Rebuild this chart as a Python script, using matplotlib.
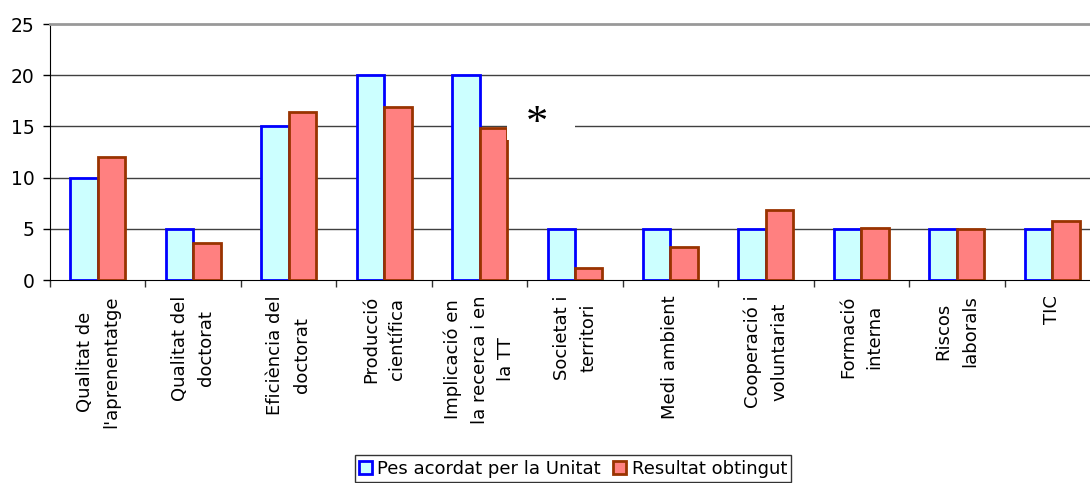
import numpy as np
import matplotlib
matplotlib.use('Agg')
import matplotlib.pyplot as plt
from matplotlib.patches import Rectangle

# Dades del gràfic
categories = ["Qualitat de\nl'aprenentatge", "Qualitat del\ndoctorat", "Eficiència del\ndoctorat",
              "Producció\ncientífica", "Implicació en\nla recerca i en\nla TT", "Societat i\nterritori",
              "Medi ambient", "Cooperació i\nvoluntariat", "Formació\ninterna", "Riscos\nlaborals", "TIC"]
pes_acordat = [10, 5, 15, 20, 20, 5, 5, 5, 5, 5, 5]
resultat = [12.0, 3.6, 16.45, 16.85, 14.8, 1.15, 3.25, 6.85, 5.05, 4.95, 5.75]
y_ticks = [0, 5, 10, 15, 20, 25]

plt.rcParams['font.family'] = ['DejaVu Sans']

fig = plt.figure(figsize=(10.9, 4.83), dpi=100)
ax = fig.add_axes([50/1090, 1 - 280/483, 1050/1090, 256/483])

x = np.arange(len(categories))
w = 0.288
ax.bar(x - w/2, pes_acordat, w, color='#CCFFFF', edgecolor='#0000FF', linewidth=2,
       label='Pes acordat per la Unitat', zorder=3)
ax.bar(x + w/2, resultat, w, color='#FF8080', edgecolor='#993300', linewidth=2,
       label='Resultat obtingut', zorder=3)

# caixa blanca amb l'asterisc
ax.add_patch(Rectangle((4.285, 13.67), 0.715, 4.5, facecolor='white', edgecolor='none', zorder=5))
ax.text(4.60, 15.25, '*', fontsize=32, family='Liberation Serif', ha='center', va='center', zorder=6)

ax.set_xlim(-0.5, len(categories) - 0.5)
ax.set_ylim(0, 25)
ax.set_yticks(y_ticks)
ax.set_yticklabels([str(v) for v in y_ticks], fontsize=13.5)
ax.tick_params(axis='y', length=5, pad=6, width=1)

ax.set_xticks(x)
ax.set_xticklabels(categories, rotation=90, fontsize=13, ma='center', linespacing=1.6)
ax.tick_params(axis='x', which='major', length=0, pad=11)
ax.set_xticks(np.arange(-0.5, len(categories)), minor=True)
ax.tick_params(axis='x', which='minor', length=5, width=1, color='#333333')

for v in [5, 10, 15, 20]:
    ax.axhline(v, color='#404040', linewidth=1, zorder=1)

ax.spines['right'].set_visible(False)
ax.spines['top'].set_color('#999999')
ax.spines['top'].set_linewidth(2)
ax.spines['left'].set_color('black')
ax.spines['bottom'].set_color('black')

leg = fig.legend(loc='upper center', bbox_to_anchor=(573/1090, 1 - 455/483), ncol=2, fontsize=13,
                 frameon=True, fancybox=False, edgecolor='black', handlelength=0.7, handleheight=0.7,
                 handletextpad=0.3, columnspacing=0.7, borderpad=0.25, borderaxespad=0)
leg.get_frame().set_linewidth(1)

fig.savefig('out.png', dpi=100)
